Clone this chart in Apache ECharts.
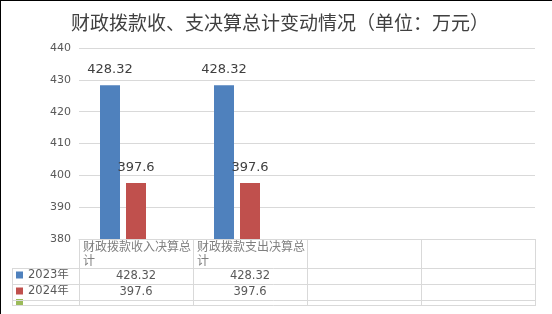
<!DOCTYPE html>
<html><head><meta charset="utf-8">
<script src="https://cdn.jsdelivr.net/npm/echarts@6/dist/echarts.min.js"></script>
<style>html,body{margin:0;padding:0;background:#fff}#c{width:552px;height:314px}</style>
</head><body><div id="c"></div>
<script>
const chartTitle = '财政拨款收、支决算总计变动情况（单位：万元）';
const categories = ['c1', 'c2', 'c3', 'c4'];
const headerLabels = ['财政拨款收入决算总计', '财政拨款支出决算总计', '', '', ''];
const seriesNames = ['2023年', '2024年', '系列3'];
const values2023 = [428.32, 428.32, null, null];
const values2024 = [397.6, 397.6, null, null];
const values3 = [null, null, null, null];
const yMin = 380, yMax = 440, yInterval = 10;

const colors = ['#4f81bd', '#c0504d', '#9bbb59'];
const lineColor = '#d9d9d9';
const GRID = {left: 79, right: 17, top: 48, bottom: 75};
const W = 552, H = 314;
const tableTop = H - GRID.bottom;          // 239
const headerH = 29, rowH = 16, lastRowH = 5.5;
const tableLeft = 12;
const tableRight = W - GRID.right;
const numFont = '"DejaVu Sans", "Noto Sans CJK SC", sans-serif';
const cjkFont = '"Noto Sans CJK SC", sans-serif';

const fmt = v => (v === null || v === undefined) ? '' : String(v);

const chart = echarts.init(document.getElementById('c'), null, {renderer: 'canvas'});

const rowYs = [tableTop + headerH, tableTop + headerH + rowH, tableTop + headerH + 2 * rowH, tableTop + headerH + 2 * rowH + lastRowH];

const graphics = [
  {type: 'line', shape: {x1: 0.5, y1: 0, x2: 0.5, y2: H}, style: {stroke: '#000', lineWidth: 1}, z: 100},
  {type: 'line', shape: {x1: 0, y1: 0.5, x2: W, y2: 0.5}, style: {stroke: '#000', lineWidth: 1}, z: 100},
  {type: 'rect', shape: {x: tableLeft + 1, y: rowYs[3] + 0.5, width: 20, height: 10}, style: {fill: '#fff'}, z: 90},
  {type: 'line', shape: {x1: tableLeft + 0.5, y1: rowYs[0], x2: tableLeft + 0.5, y2: rowYs[3] + 0.5}, style: {stroke: lineColor, lineWidth: 1}, z: 95}
];
rowYs.forEach(y => {
  const yy = Math.floor(y) + 0.5;
  graphics.push({type: 'line', shape: {x1: tableLeft, y1: yy, x2: tableRight + 0.5, y2: yy}, style: {stroke: lineColor, lineWidth: 1}, z: 95});
});

const rowAxis = (vals, offset) => ({
  type: 'category', data: categories, position: 'bottom', offset: offset, gridIndex: 0,
  axisLine: {show: false}, axisTick: {show: false}, splitLine: {show: false},
  axisLabel: {
    interval: 0, margin: 0, lineHeight: 16, fontSize: 11.5, color: '#595959', fontFamily: numFont,
    verticalAlign: 'top',
    formatter: (v, i) => fmt(vals[i])
  }
});

const option = {
  animation: false,
  backgroundColor: '#fff',
  title: {
    text: chartTitle, left: 71, top: 13, padding: 0,
    textStyle: {fontSize: 19, fontWeight: 'normal', color: '#404040', fontFamily: cjkFont}
  },
  legend: {
    orient: 'vertical', left: 16, top: 267, padding: 0, itemGap: 0,
    itemWidth: 7, itemHeight: 7, icon: 'rect', selectedMode: false,
    data: seriesNames,
    formatter: n => (n === seriesNames[2] ? '' : n),
    textStyle: {fontSize: 11.5, lineHeight: 16, color: '#595959', fontFamily: numFont}
  },
  grid: {left: GRID.left, right: GRID.right, top: GRID.top, bottom: GRID.bottom, containLabel: false, outerBoundsMode: 'none'},
  xAxis: [
    {
      type: 'category', data: categories, position: 'bottom',
      axisLine: {show: true, lineStyle: {color: lineColor}},
      axisTick: {show: true, interval: 0, length: headerH + 2 * rowH + lastRowH + 0.5, lineStyle: {color: lineColor}},
      axisLabel: {show: false}
    },
    rowAxis(values2023, headerH),
    rowAxis(values2024, headerH + rowH),
    {
      type: 'category', data: headerLabels, boundaryGap: false, position: 'bottom', offset: 0,
      axisLine: {show: false}, axisTick: {show: false},
      axisLabel: {
        interval: 0, margin: 0, align: 'left', verticalAlign: 'top', padding: [0, 0, 0, 4],
        width: 109, overflow: 'break', lineHeight: 14.5, fontSize: 12, color: '#7f7f7f', fontFamily: cjkFont
      }
    }
  ],
  yAxis: {
    type: 'value', min: yMin, max: yMax, interval: yInterval,
    axisLine: {show: false}, axisTick: {show: false},
    splitLine: {lineStyle: {color: lineColor}},
    axisLabel: {margin: 8, fontSize: 11, color: '#595959', fontFamily: numFont}
  },
  series: [
    {name: seriesNames[0], type: 'bar', xAxisIndex: 0, data: values2023, barWidth: 20, barGap: '30%',
     itemStyle: {color: colors[0]},
     label: {show: true, position: 'top', distance: 9, fontSize: 13, color: '#404040', fontFamily: numFont}},
    {name: seriesNames[1], type: 'bar', xAxisIndex: 0, data: values2024, barWidth: 20, barGap: '30%',
     itemStyle: {color: colors[1]},
     label: {show: true, position: 'top', distance: 9, fontSize: 13, color: '#404040', fontFamily: numFont}},
    {name: seriesNames[2], type: 'bar', xAxisIndex: 0, data: values3, barWidth: 20, barGap: '30%',
     itemStyle: {color: colors[2]}}
  ],
  graphic: graphics
};
chart.setOption(option);
</script>
</body></html>
